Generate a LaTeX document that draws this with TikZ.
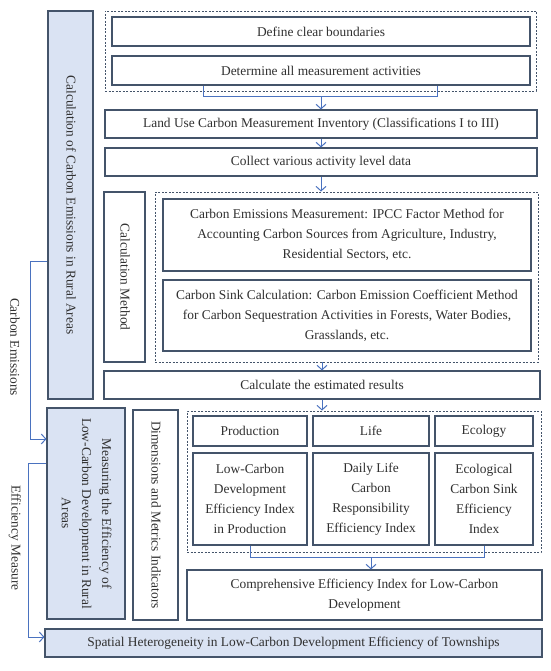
\documentclass[tikz,border=0pt]{standalone}
\usepackage{graphicx}
\usepackage{fontspec}
\setmainfont{Liberation Serif}
\usetikzlibrary{arrows.meta,calc,positioning}
\definecolor{boxline}{HTML}{44546A}
\definecolor{bluefill}{HTML}{DAE3F3}
\definecolor{flowblue}{HTML}{4A72BF}
\definecolor{txt}{HTML}{303030}
\newcommand{\vlabel}[1]{\rotatebox{-90}{\begin{tabular}{@{}c@{}}#1\end{tabular}}}

\begin{document}
\begin{tikzpicture}[x=1pt,y=-1pt,font=\fontsize{13.4}{20}\selectfont,
  box/.style={draw=boxline,fill=white,line width=1.1pt,align=center,inner sep=0pt,text=txt},
  bluebox/.style={box,fill=bluefill},
  group/.style={draw=boxline,line width=.9pt,dash pattern=on 2pt off 1.5pt,inner sep=0pt},
  flow/.style={flowblue,line width=1pt,-{Straight Barb[length=4.5pt,width=10pt]}},
  link/.style={flowblue,line width=1pt}]
 \useasboundingbox (0,0) rectangle (550,671);
 % left column
 \node[bluebox,minimum width=45pt,minimum height=388pt](calc)at(70.5,205){\vlabel{Calculation of Carbon Emissions in Rural Areas}};
 \node[bluebox,minimum width=78pt,minimum height=211pt](measure)at(86,513.5){\vlabel{Measuring the Efficiency of\\Low-Carbon Development in Rural\\Areas}};
 \node[bluebox,minimum width=497pt,minimum height=28pt](spatial)at(293.5,643){Spatial Heterogeneity in Low-Carbon Development Efficiency of Townships};
 \node[text=txt](celab)at(15,347){\rotatebox{-90}{Carbon Emissions}};
 \node[text=txt](emlab)at(15,538){\rotatebox{-90}{Efficiency Measure}};
 % upper part
 \node[group,minimum width=431pt,minimum height=80pt](grpA)at(320.5,51){};
 \node[box,minimum width=418pt,minimum height=29pt](define)at(321,31.5){Define clear boundaries};
 \node[box,minimum width=418pt,minimum height=29pt](determine)at(321,70.5){Determine all measurement activities};
 \node[box,minimum width=432pt,minimum height=28pt](landuse)at(321,124){Land Use Carbon Measurement Inventory (Classifications I to III)};
 \node[box,minimum width=432pt,minimum height=28pt](collect)at(321,162){Collect various activity level data};
 \node[box,minimum width=41pt,minimum height=170pt](method)at(124.5,277){\vlabel{Calculation Method}};
 \node[group,minimum width=383pt,minimum height=170pt](grpB)at(346.5,277){};
 \node[box,minimum width=368pt,minimum height=72pt](ipcc)at(347,235){Carbon Emissions Measurement: IPCC Factor Method for\\Accounting Carbon Sources from Agriculture, Industry,\\Residential Sectors, etc.};
 \node[box,minimum width=368pt,minimum height=71pt](sink)at(347,315.5){Carbon Sink Calculation: Carbon Emission Coefficient Method\\for Carbon Sequestration Activities in Forests, Water Bodies,\\Grasslands, etc.};
 \node[box,minimum width=436pt,minimum height=28pt](estim)at(322,385){Calculate the estimated results};
 % lower part
 \node[box,minimum width=45pt,minimum height=210pt](dims)at(155.5,515){\vlabel{Dimensions and Metrics Indicators}};
 \node[group,minimum width=354pt,minimum height=141pt](grpC)at(364,481.5){};
 \node[box,minimum width=114pt,minimum height=30pt](prod)at(250,431){Production};
 \node[box,minimum width=116pt,minimum height=30pt](life)at(371,431){Life};
 \node[box,minimum width=98pt,minimum height=30pt](eco)at(484,431){Ecology};
 \node[box,minimum width=114pt,minimum height=92pt](prodidx)at(250,499){Low-Carbon\\Development\\Efficiency Index\\in Production};
 \node[box,minimum width=116pt,minimum height=92pt](lifeidx)at(371,499){Daily Life\\Carbon\\Responsibility\\Efficiency Index};
 \node[box,minimum width=98pt,minimum height=92pt](ecoidx)at(484,499){Ecological\\Carbon Sink\\Efficiency\\Index};
 \node[box,minimum width=355pt,minimum height=50pt](compr)at(364.5,595){Comprehensive Efficiency Index for Low-Carbon\\Development};
 % connectors
 \coordinate(bA1)at(203,97);\coordinate(bA2)at(437,97);
 \draw[link](determine.south-|bA1)--(bA1)--(bA2)--(determine.south-|bA2);
 \draw[flow](landuse.north|-bA1)--(landuse.north);
 \draw[flow](landuse)--(collect);
 \draw[flow](collect.south)--(collect.south|-grpB.north);
 \draw[flow](estim.north|-grpB.south)--(estim.north);
 \draw[flow](estim.south)--(estim.south|-grpC.north);
 \coordinate(bC)at(0,557);
 \draw[link](prodidx.south)--(prodidx.south|-bC)--(ecoidx.south|-bC)--(ecoidx.south);
 \draw[flow](lifeidx.south|-bC)--(lifeidx.south|-compr.north);
 \coordinate(ceTop)at(30,261);\coordinate(ceBot)at(30,439);
 \draw[flow](calc.west|-ceTop)--(ceTop)--(ceBot)--(measure.west|-ceBot);
 \coordinate(emTop)at(28,463);\coordinate(emBot)at(28,637);
 \draw[flow](measure.west|-emTop)--(emTop)--(emBot)--(spatial.west|-emBot);
\end{tikzpicture}
\end{document}
